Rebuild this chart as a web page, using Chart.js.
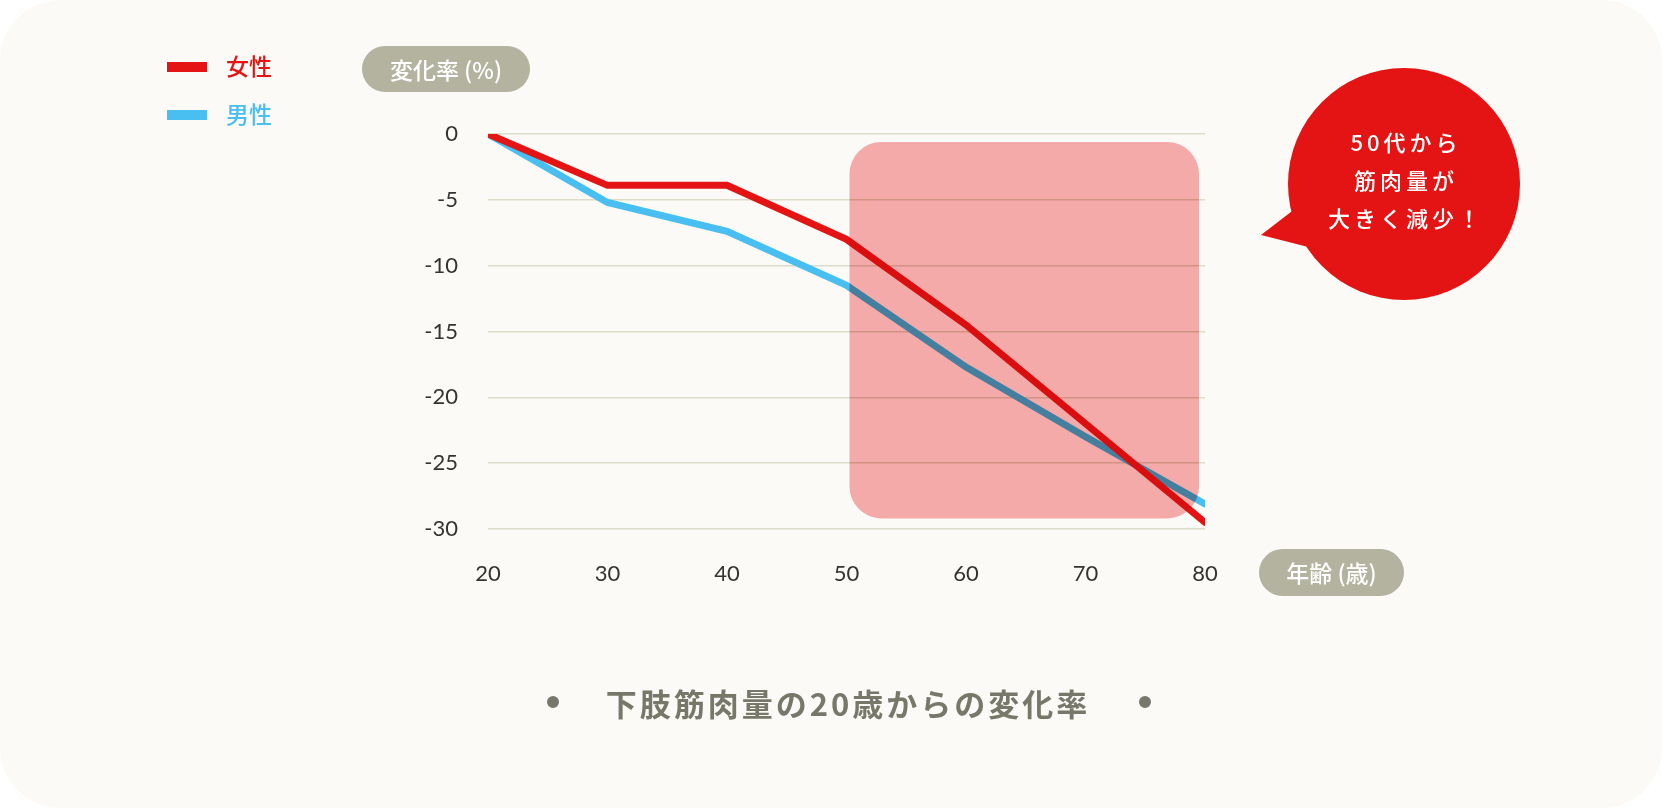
<!DOCTYPE html>
<html><head><meta charset="utf-8">
<script src="https://cdn.jsdelivr.net/npm/chart.js@4"></script>
<style>html,body{margin:0;background:#fff;}#wrap{position:absolute;left:0;top:0;width:1662px;height:808px;background:#fbfaf7;border-radius:60px;overflow:hidden}</style>
</head><body><div id="wrap"><canvas id="c" width="1662" height="808"></canvas></div>
<script>
const ages = [20, 30, 40, 50, 60, 70, 80];
const female = [0, -3.9, -3.9, -8, -14.5, -22, -29.5];
const male = [0, -5.2, -7.4, -11.5, -17.7, -23, -28.1];
const yTicks = [0, -5, -10, -15, -20, -25, -30];
const F = '"Noto Sans CJK JP", "Noto Sans", sans-serif';
const TF = 'Lato, "Noto Sans", sans-serif';
function rr(ctx,x,y,w,h,r){ctx.beginPath();ctx.moveTo(x+r,y);ctx.arcTo(x+w,y,x+w,y+h,r);ctx.arcTo(x+w,y+h,x,y+h,r);ctx.arcTo(x,y+h,x,y,r);ctx.arcTo(x,y,x+w,y,r);ctx.closePath();}
function pill(ctx,x,y,w,h,t){ctx.fillStyle='#b3b3a0';rr(ctx,x,y,w,h,h/2);ctx.fill();ctx.fillStyle='#fff';ctx.font='500 23px '+F;ctx.textAlign='center';ctx.textBaseline='middle';ctx.fillText(t,x+w/2,y+h/2+1);}
const deco = {id:'deco',
 afterDatasetsDraw(ch){const ctx=ch.ctx,xs=ch.scales.x,ys=ch.scales.y;ctx.save();
  const x0=xs.getPixelForValue(50)+3,x1=xs.getPixelForValue(80)-6,y0=ys.getPixelForValue(-0.6),y1=ys.getPixelForValue(-29.2);
  ctx.globalCompositeOperation='multiply';
  ctx.fillStyle='#f4aaa9';rr(ctx,x0,y0,x1-x0,y1-y0,32);ctx.fill();ctx.restore();},
 afterDraw(ch){const ctx=ch.ctx,xs=ch.scales.x;ctx.save();
  ctx.fillStyle='#333';ctx.font='22px '+TF;ctx.textAlign='center';ctx.textBaseline='middle';
  ages.forEach(a=>ctx.fillText(String(a),xs.getPixelForValue(a),574));
  // legend
  ctx.fillStyle='#e41414';ctx.fillRect(167,62,40,10);ctx.fillStyle='#48bff0';ctx.fillRect(167,110,40,10);
  ctx.font='500 23px '+F;ctx.textBaseline='middle';ctx.textAlign='left';
  ctx.fillStyle='#e41414';ctx.fillText('女性',226,66);ctx.fillStyle='#48bff0';ctx.fillText('男性',226,114);
  pill(ctx,362,46,168,46,'変化率 (%)');pill(ctx,1259,549,145,47,'年齢 (歳)');
  // bubble
  ctx.fillStyle='#e41414';ctx.beginPath();ctx.arc(1404,184,116,0,Math.PI*2);ctx.fill();
  ctx.beginPath();ctx.moveTo(1300,205);ctx.lineTo(1261,235);ctx.lineTo(1320,250);ctx.closePath();ctx.fill();
  ctx.fillStyle='#fff';ctx.font='500 22px '+F;ctx.textAlign='center';
  if('letterSpacing' in ctx) ctx.letterSpacing='4px';
  ctx.fillText('50代から',1406,143);ctx.fillText('筋肉量が',1406,181);ctx.fillText('大きく減少！',1406,219);
  if('letterSpacing' in ctx) ctx.letterSpacing='3px';
  ctx.fillStyle='#77776a';ctx.font='bold 31px '+F;ctx.fillText('下肢筋肉量の20歳からの変化率',848,704);
  ctx.beginPath();ctx.arc(553,702,6,0,Math.PI*2);ctx.arc(1145,702,6,0,Math.PI*2);ctx.fill();
  ctx.restore();}};
new Chart(document.getElementById('c'),{type:'line',
 data:{labels:ages,datasets:[
  {label:'女性',data:ages.map((a,i)=>({x:a,y:female[i]})),borderColor:'#e41414',borderWidth:7,pointRadius:0,tension:0,borderCapStyle:'round'},
  {label:'男性',data:ages.map((a,i)=>({x:a,y:male[i]})),borderColor:'#48bff0',borderWidth:7,pointRadius:0,tension:0,borderCapStyle:'round'}]},
 options:{responsive:false,animation:false,events:[],
  layout:{padding:{left:0,right:457,top:134,bottom:279}},
  plugins:{legend:{display:false},tooltip:{enabled:false}},
  scales:{
   x:{type:'linear',min:20,max:80,afterFit(s){s.height=0;},grid:{display:false},border:{display:false},
      ticks:{display:false,stepSize:10},
      afterBuildTicks(s){s.ticks=ages.map(v=>({value:v}));}},
   y:{min:-30,max:0,afterFit(s){s.width=488;},grid:{color:'#dcdcc8',lineWidth:1.5,drawTicks:false},border:{display:false},
      ticks:{color:'#333',font:{size:22,family:TF},padding:30},
      afterBuildTicks(s){s.ticks=yTicks.map(v=>({value:v}));}}}},
 plugins:[deco]});
</script></body></html>
